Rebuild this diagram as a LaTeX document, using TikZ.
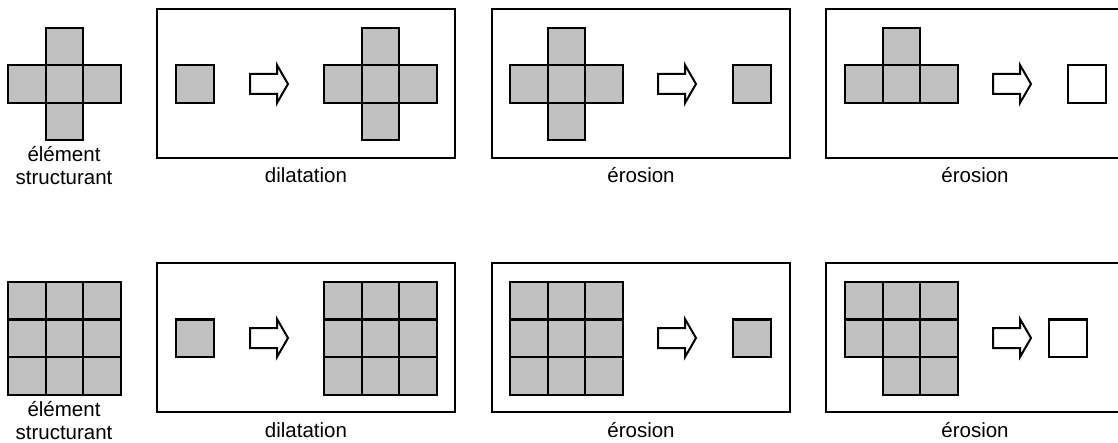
\documentclass[tikz,border=0pt]{standalone}
\usepackage{fontspec}
\setmainfont{Liberation Sans}
\definecolor{cellgray}{RGB}{192,192,192}
\tikzset{
  frame/.style={draw=black, line width=2pt},
  cell/.style={fill=cellgray, draw=black, line width=2pt},
  emptycell/.style={fill=white, draw=black, line width=2pt},
  hollow/.style={fill=white, draw=black, line width=2pt, line join=miter},
  lbl/.style={anchor=base, inner sep=0pt, font=\fontsize{20.5}{24}\selectfont},
  pics/harrow/.style={code={\draw[hollow] (0,-10)--(27,-10)--(27,-19)--(38,0)--(27,19)--(27,10)--(0,10)--cycle;}}
}
\begin{document}
\begin{tikzpicture}[x=1pt,y=-1pt]
\useasboundingbox (0,0) rectangle (1118,443);
\clip (0,0) rectangle (1118,443);
\def\cs{37.5}
% ===== top row =====
% structuring element (cross)
\foreach \x/\y in {45.5/28, 8/65.5, 45.5/65.5, 83/65.5, 45.5/103}
  \draw[cell] (\x,\y) rectangle ++(\cs,\cs);
\node[lbl] (se1a) at (64,162) {élément};
\node[lbl] (se1b) at (64,185) {structurant};
% box 1: dilatation
\draw[frame] (157,9.5) rectangle (455,158);
\draw[cell] (176,65.5) rectangle ++(\cs,\cs);
\pic at (250,84) {harrow};
\foreach \x/\y in {361.5/28, 324/65.5, 361.5/65.5, 399/65.5, 361.5/103}
  \draw[cell] (\x,\y) rectangle ++(\cs,\cs);
\node[lbl] (d1) at (306,183) {dilatation};
% box 2: erosion
\draw[frame] (492,9.5) rectangle (790,158);
\foreach \x/\y in {547.5/28, 510/65.5, 547.5/65.5, 585/65.5, 547.5/103}
  \draw[cell] (\x,\y) rectangle ++(\cs,\cs);
\pic at (658,84) {harrow};
\draw[cell] (733,65.5) rectangle ++(\cs,\cs);
\node[lbl] (e1) at (641,183) {érosion};
% box 3: erosion
\draw[frame] (826,9.5) rectangle (1124,158);
\foreach \x/\y in {882.5/28, 845/65.5, 882.5/65.5, 920/65.5}
  \draw[cell] (\x,\y) rectangle ++(\cs,\cs);
\pic at (993,84) {harrow};
\draw[emptycell] (1068,65.5) rectangle ++(\cs,\cs);
\node[lbl] (f1) at (975,183) {érosion};
% ===== bottom row =====
\foreach \i in {0,1,2} \foreach \j in {0,1,2}
  \draw[cell] (8+\i*\cs,282+\j*\cs) rectangle ++(\cs,\cs);
\node[lbl] (se2a) at (64,416) {élément};
\node[lbl] (se2b) at (64,439) {structurant};
% box 1
\draw[frame] (157,263.5) rectangle (455,412);
\draw[cell] (176,319.5) rectangle ++(\cs,\cs);
\pic at (250,338) {harrow};
\foreach \i in {0,1,2} \foreach \j in {0,1,2}
  \draw[cell] (324+\i*\cs,282+\j*\cs) rectangle ++(\cs,\cs);
\node[lbl] (d2) at (306,437) {dilatation};
% box 2
\draw[frame] (492,263.5) rectangle (790,412);
\foreach \i in {0,1,2} \foreach \j in {0,1,2}
  \draw[cell] (510+\i*\cs,282+\j*\cs) rectangle ++(\cs,\cs);
\pic at (658,338) {harrow};
\draw[cell] (733,319.5) rectangle ++(\cs,\cs);
\node[lbl] (e2) at (641,437) {érosion};
% box 3
\draw[frame] (826,263.5) rectangle (1124,412);
\foreach \i in {0,1,2} \foreach \j in {0,1}
  \draw[cell] (845+\i*\cs,282+\j*\cs) rectangle ++(\cs,\cs);
\foreach \i in {1,2}
  \draw[cell] (845+\i*\cs,357) rectangle ++(\cs,\cs);
\pic at (993,338) {harrow};
\draw[emptycell] (1049,319.5) rectangle ++(\cs,\cs);
\node[lbl] (f2) at (975,437) {érosion};
\end{tikzpicture}
\end{document}
